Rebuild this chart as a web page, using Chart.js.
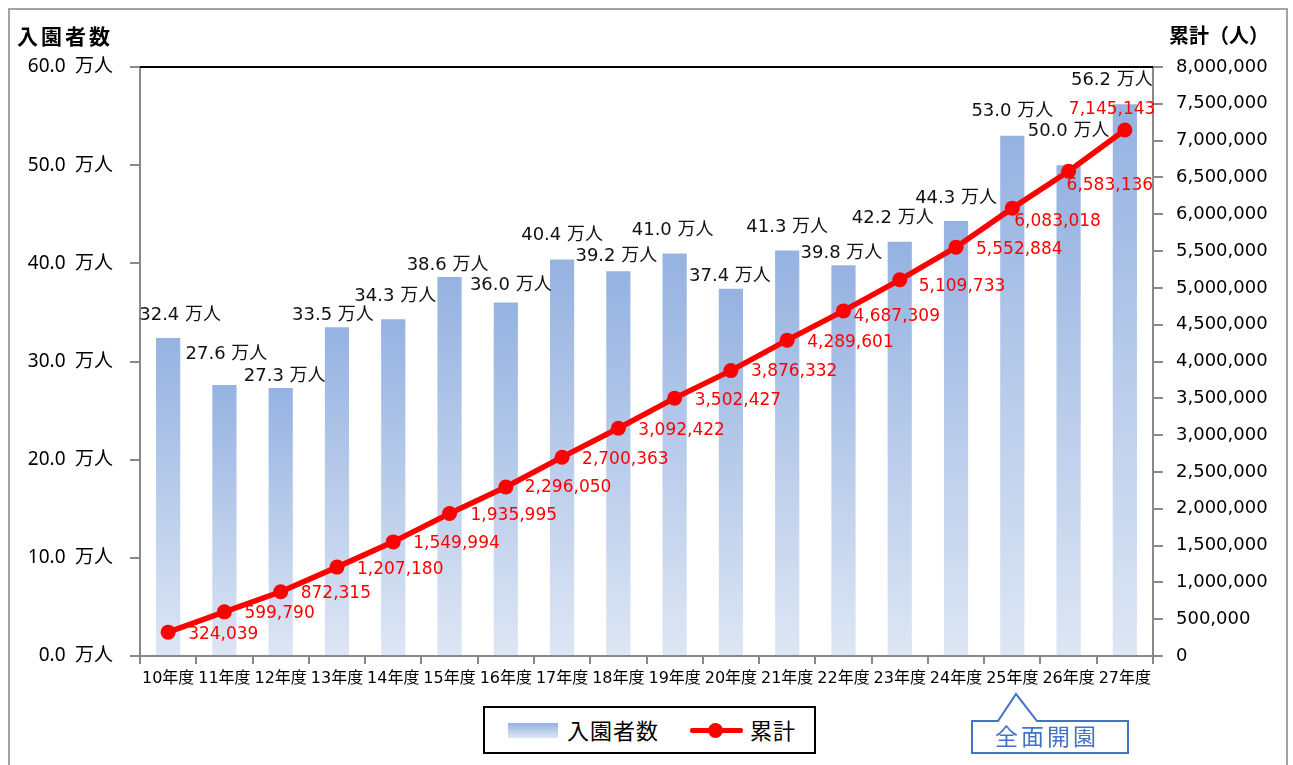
<!DOCTYPE html>
<html>
<head>
<meta charset="utf-8">
<script src="https://cdn.jsdelivr.net/npm/chart.js@4.4.1/dist/chart.umd.min.js"></script>
<style>
  body { margin: 0; background: #fff; }
  #wrap { position: relative; width: 1293px; height: 765px; overflow: hidden; font-family: "Noto Sans CJK JP", "Noto Sans", sans-serif; }
  #chart { position: absolute; left: 0; top: 0; }
  .frame { position: absolute; left: 8px; top: 8px; width: 1280px; height: 780px; border: 2px solid #a3a3a3; box-sizing: border-box; pointer-events: none; }
  .ttl { position: absolute; font-weight: bold; color: #000; white-space: nowrap; }
  .legend { position: absolute; left: 483px; top: 706px; width: 333px; height: 48px; border: 2px solid #000; box-sizing: border-box; background: #fff; }
  .legend span { position: absolute; font-size: 22px; top: 5px; letter-spacing: 1px; color: #000; }
  .sw { position: absolute; left: 23px; top: 15px; width: 50px; height: 15px; background: linear-gradient(#95b2e1, #dde6f4); }
  .ln { position: absolute; left: 205px; top: 20px; width: 53px; height: 5px; background: #ff0000; border-radius: 2px; }
  .dot { position: absolute; left: 223px; top: 15px; width: 15px; height: 15px; background: #ff0000; border-radius: 50%; }
  .callout { position: absolute; left: 0; top: 0; pointer-events: none; }
  .callTxt { position: absolute; left: 995px; top: 718px; font-size: 23px; letter-spacing: 3px; color: #4472c4; }
</style>
</head>
<body>
<div id="wrap">
  <canvas id="chart" width="1293" height="765"></canvas>
  <div class="ttl" style="left:17px; top:20px; font-size:21px; letter-spacing:3px;">入園者数</div>
  <div class="ttl" style="left:1169px; top:20px; font-size:20px;">累計（人）</div>
  <div class="legend">
    <div class="sw"></div>
    <span style="left:82px;">入園者数</span>
    <div class="ln"></div>
    <div class="dot"></div>
    <span style="left:265px;">累計</span>
  </div>
  <svg class="callout" width="1293" height="765">
    <path d="M972,721 H998 L1016,694 L1037,721 H1128 V753 H972 Z" fill="#fff" stroke="#4472c4" stroke-width="2"/>
  </svg>
  <div class="callTxt">全面開園</div>
  <div class="frame"></div>
</div>
<script>
// years (平成)
const labels = ['10年度', '11年度', '12年度', '13年度', '14年度', '15年度', '16年度', '17年度', '18年度',
                '19年度', '20年度', '21年度', '22年度', '23年度', '24年度', '25年度', '26年度', '27年度'];
// 入園者数 (万人)
const visitors = [32.4, 27.6, 27.3, 33.5, 34.3, 38.6, 36.0, 40.4, 39.2, 41.0, 37.4, 41.3, 39.8, 42.2, 44.3, 53.0, 50.0, 56.2];
// 累計 (人)
const cumulative = [324039, 599790, 872315, 1207180, 1549994, 1935995, 2296050, 2700363, 3092422,
                    3502427, 3876332, 4289601, 4687309, 5109733, 5552884, 6083018, 6583136, 7145143];

// hand-placed label nudges, like the original sheet
const barLabelShift = [[12, -23], [2, -31], [4, -12], [-4, -12], [2, -23], [-2, -12], [5, -17], [0, -24], [-2, -15],
                       [-2, -23], [-1, -13], [0, -23], [-2, -12], [-7, -23], [0, -23], [0, -24], [0, -34], [-13, -24]];
const lineLabelShift = [[20, 2], [20, 2], [20, 2], [20, 2], [20, 2], [21, 2], [19, 1], [20, 2], [20, 2],
                        [20, 2], [20, 1], [20, 2], [10, 6], [19, 7], [20, 2], [2, 13], [-2, 14], [-56, -20]];

const numFont = '"DejaVu Sans", "Noto Sans CJK JP", sans-serif';
const axisGray = '#898989';

function barGradient(ctx) {
    const chart = ctx.chart;
    if (!chart.chartArea || ctx.raw === undefined) return '#a6bde6';
    const yS = chart.scales.y;
    const top = yS.getPixelForValue(ctx.raw);
    const g = chart.ctx.createLinearGradient(0, top, 0, yS.bottom);
    g.addColorStop(0, '#95b2e1');
    g.addColorStop(1, '#dde6f4');
    return g;
}

const labelPlugin = {
    id: 'labels',
    afterDatasetsDraw(chart) {
        const c = chart.ctx;
        c.save();
        // bar labels
        c.font = '18px ' + numFont;
        c.fillStyle = '#111';
        c.textAlign = 'center';
        c.textBaseline = 'middle';
        chart.getDatasetMeta(1).data.forEach((bar, i) => {
            const s = barLabelShift[i];
            c.fillText(visitors[i].toFixed(1) + ' 万人', bar.x + s[0], bar.y + s[1]);
        });
        // cumulative labels
        c.font = '17px ' + numFont;
        c.fillStyle = '#ff0000';
        c.textAlign = 'left';
        chart.getDatasetMeta(0).data.forEach((pt, i) => {
            const s = lineLabelShift[i];
            c.fillText(cumulative[i].toLocaleString('en-US'), pt.x + s[0], pt.y + s[1]);
        });
        c.restore();
    },
    afterDraw(chart) {
        const a = chart.chartArea;
        const c = chart.ctx;
        c.save();
        c.strokeStyle = '#000';
        c.lineWidth = 2;
        c.beginPath();
        c.moveTo(a.left, a.top);
        c.lineTo(a.right, a.top);
        c.stroke();
        c.restore();
    }
};

new Chart(document.getElementById('chart').getContext('2d'), {
    type: 'bar',
    data: {
        labels: labels,
        datasets: [{
            type: 'line',
            label: '累計',
            data: cumulative,
            yAxisID: 'y1',
            borderColor: '#ff0000',
            backgroundColor: '#ff0000',
            borderWidth: 5.5,
            pointRadius: 7.5,
            pointBackgroundColor: '#ff0000',
            pointBorderWidth: 0,
            tension: 0,
            order: 0
        }, {
            label: '入園者数',
            data: visitors,
            yAxisID: 'y',
            backgroundColor: barGradient,
            categoryPercentage: 1,
            barPercentage: 0.43,
            order: 1
        }]
    },
    options: {
        responsive: false,
        animation: false,
        layout: { padding: { top: 67, left: 0, right: 0, bottom: 0 } },
        plugins: { legend: { display: false }, tooltip: { enabled: false } },
        scales: {
            x: {
                grid: { display: true, drawOnChartArea: false, color: axisGray, lineWidth: 2, tickLength: 8 },
                border: { color: axisGray, width: 2 },
                ticks: { autoSkip: false, maxRotation: 0, minRotation: 0, padding: 5, color: '#000',
                         font: { size: 16, family: numFont } },
                afterFit(s) { s.height = 109; }
            },
            y: {
                position: 'left',
                min: 0, max: 60,
                grid: { drawOnChartArea: false, color: axisGray, lineWidth: 2, tickLength: 10 },
                border: { color: axisGray, width: 2 },
                ticks: { stepSize: 10, padding: 17, color: '#000', font: { size: 19, family: '"Noto Sans", "Noto Sans CJK JP", sans-serif' },
                         callback: v => v.toFixed(1) + '\u2002万人' },
                afterFit(s) { s.width = 140; }
            },
            y1: {
                position: 'right',
                min: 0, max: 8000000,
                grid: { drawOnChartArea: false, color: axisGray, lineWidth: 2, tickLength: 10 },
                border: { color: axisGray, width: 2 },
                ticks: { stepSize: 500000, padding: 13, color: '#000', font: { size: 18, family: numFont },
                         callback: v => v.toLocaleString('en-US') },
                afterFit(s) { s.width = 140; }
            }
        }
    },
    plugins: [labelPlugin]
});
</script>
</body>
</html>
